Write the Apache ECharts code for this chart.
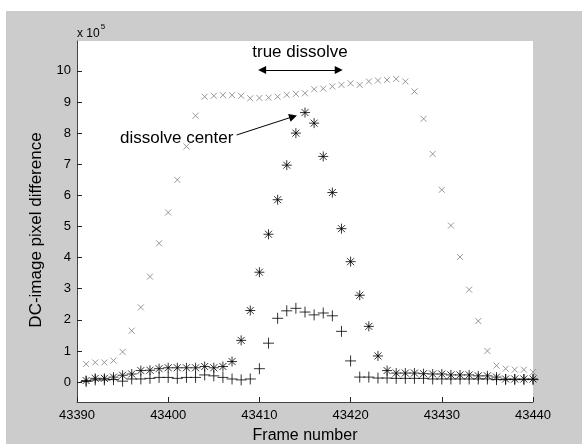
<!DOCTYPE html>
<html>
<head>
<meta charset="utf-8">
<script src="https://cdn.jsdelivr.net/npm/echarts@6/dist/echarts.min.js"></script>
<style>
  html, body { margin: 0; padding: 0; background: #fff; }
  #chart { width: 582px; height: 444px; }
</style>
</head>
<body>
<div id="chart"></div>
<script>
"use strict";

// frame numbers 43391 .. 43440
var frames = [];
for (var f = 43391; f <= 43440; f++) { frames.push(f); }

// values in units of 10^5
var crossVals = [0.58, 0.63, 0.63, 0.69, 0.97, 1.65, 2.40, 3.39, 4.46, 5.45,
    6.50, 7.57, 8.56, 9.17, 9.20, 9.22, 9.22, 9.20, 9.12, 9.13,
    9.14, 9.17, 9.23, 9.26, 9.28, 9.41, 9.43, 9.50, 9.55, 9.60,
    9.55, 9.66, 9.69, 9.71, 9.74, 9.66, 9.34, 8.46, 7.33, 6.18,
    5.03, 4.02, 2.97, 1.96, 1.00, 0.53, 0.43, 0.40, 0.40, 0.32];
var starVals = [0.05, 0.12, 0.12, 0.16, 0.22, 0.26, 0.37, 0.38, 0.43, 0.46,
    0.46, 0.46, 0.46, 0.50, 0.46, 0.50, 0.66, 1.34, 2.30, 3.53,
    4.75, 5.86, 6.97, 8.00, 8.66, 8.32, 7.25, 6.09, 4.93, 3.87,
    2.79, 1.79, 0.84, 0.37, 0.29, 0.29, 0.29, 0.27, 0.26, 0.26,
    0.23, 0.23, 0.23, 0.20, 0.20, 0.16, 0.10, 0.10, 0.10, 0.10];
var plusVals = [0.02, 0.07, 0.07, 0.08, 0.03, 0.10, 0.10, 0.12, 0.15, 0.15,
    0.12, 0.15, 0.15, 0.23, 0.20, 0.15, 0.10, 0.07, 0.10, 0.43,
    1.25, 2.05, 2.29, 2.37, 2.25, 2.16, 2.22, 2.13, 1.63, 0.68,
    0.16, 0.16, 0.13, 0.13, 0.12, 0.12, 0.12, 0.12, 0.10, 0.10,
    0.10, 0.10, 0.10, 0.10, 0.10, 0.08, 0.08, 0.08, 0.08, 0.08];

var yTicks = [0, 1, 2, 3, 4, 5, 6, 7, 8, 9, 10];

// annotation arrows (data coords)
var dissolveSpan = [[43410.3, 10.03], [43418.7, 10.03]];
var centerArrow = [[43407.5, 7.94], [43413.7, 8.53]];

function pairs(v) {
    return frames.map(function(x, i) { return [x, v[i]]; });
}

var FONT = "'Liberation Sans', Arial, sans-serif";
var chart = echarts.init(document.getElementById("chart"));

var option = {
    animation: false,
    backgroundColor: "#cccccc",
    grid: {
        left: 77, right: 49, top: 41, bottom: 42,
        show: true, backgroundColor: "#fff", borderWidth: 0
    },
    xAxis: {
        type: "value", min: 43390, max: 43440, interval: 10,
        axisLine: { onZero: false, lineStyle: { color: "#444", width: 1 } },
        axisTick: { inside: true, length: 5, lineStyle: { color: "#222" } },
        axisLabel: {
            color: "#000", fontSize: 13, fontFamily: FONT, margin: 7,
            formatter: function(v) { return String(v); }
        },
        splitLine: { show: false }
    },
    yAxis: {
        type: "value", min: -0.64, max: 10.96,
        axisLine: { show: true, onZero: false, lineStyle: { color: "#444", width: 1 } },
        axisTick: { show: true, inside: true, length: 5, customValues: yTicks, lineStyle: { color: "#222" } },
        axisLabel: { color: "#000", fontSize: 13, fontFamily: FONT, margin: 6, customValues: yTicks },
        splitLine: { show: false }
    },
    graphic: [
        { type: "rect", shape: { x: 0, y: 0, width: 582, height: 11 }, style: { fill: "#fff" }, silent: true },
        { type: "rect", shape: { x: 0, y: 0, width: 6, height: 444 }, style: { fill: "#fff" }, silent: true },
        {
            type: "text", x: 77, y: 23,
            style: {
                text: "{a|x 10}{b|5}",
                rich: {
                    a: { fontSize: 12, fontFamily: FONT, fill: "#000", verticalAlign: "bottom" },
                    b: { fontSize: 8, fontFamily: FONT, fill: "#000", padding: [0, 0, 9, 1] }
                }
            }
        },
        {
            type: "text", x: 36, y: 230, rotation: Math.PI / 2,
            style: { text: "DC-image pixel difference", fontSize: 17, fontFamily: FONT, fill: "#000", textAlign: "center", textVerticalAlign: "middle" }
        },
        {
            type: "text", x: 305, y: 436,
            style: { text: "Frame number", fontSize: 16, fontFamily: FONT, fill: "#000", textAlign: "center", textVerticalAlign: "middle" }
        },
        {
            type: "text", x: 300, y: 52,
            style: { text: "true dissolve", fontSize: 17, fontFamily: FONT, fill: "#000", textAlign: "center", textVerticalAlign: "middle" }
        },
        {
            type: "text", x: 120, y: 138,
            style: { text: "dissolve center", fontSize: 17, fontFamily: FONT, fill: "#000", textAlign: "left", textVerticalAlign: "middle" }
        }
    ],
    series: [
        {
            name: "cross", type: "scatter", data: pairs(crossVals),
            symbol: "path://M0,0L10,10M10,0L0,10", symbolSize: 6,
            itemStyle: { color: "#808080", borderColor: "#808080", borderWidth: 1 },
            markLine: {
                silent: true, animation: false,
                symbol: ["triangle", "triangle"], symbolSize: [8, 8],
                lineStyle: { color: "#000", width: 1, type: "solid" },
                label: { show: false },
                data: [
                    [{ coord: dissolveSpan[0], symbol: "triangle" }, { coord: dissolveSpan[1], symbol: "triangle" }],
                    [{ coord: centerArrow[0], symbol: "none" }, { coord: centerArrow[1], symbol: "triangle" }]
                ]
            }
        },
        {
            name: "star", type: "scatter", data: pairs(starVals),
            symbol: "path://M5,0L5,10M0,5L10,5M1.5,1.5L8.5,8.5M8.5,1.5L1.5,8.5", symbolSize: 10,
            itemStyle: { color: "#000", borderColor: "#000", borderWidth: 1 }
        },
        {
            name: "plus", type: "scatter", data: pairs(plusVals),
            symbol: "path://M5,0L5,10M0,5L10,5", symbolSize: 11,
            itemStyle: { color: "#000", borderColor: "#000", borderWidth: 1 }
        }
    ]
};

chart.setOption(option);
</script>
</body>
</html>
